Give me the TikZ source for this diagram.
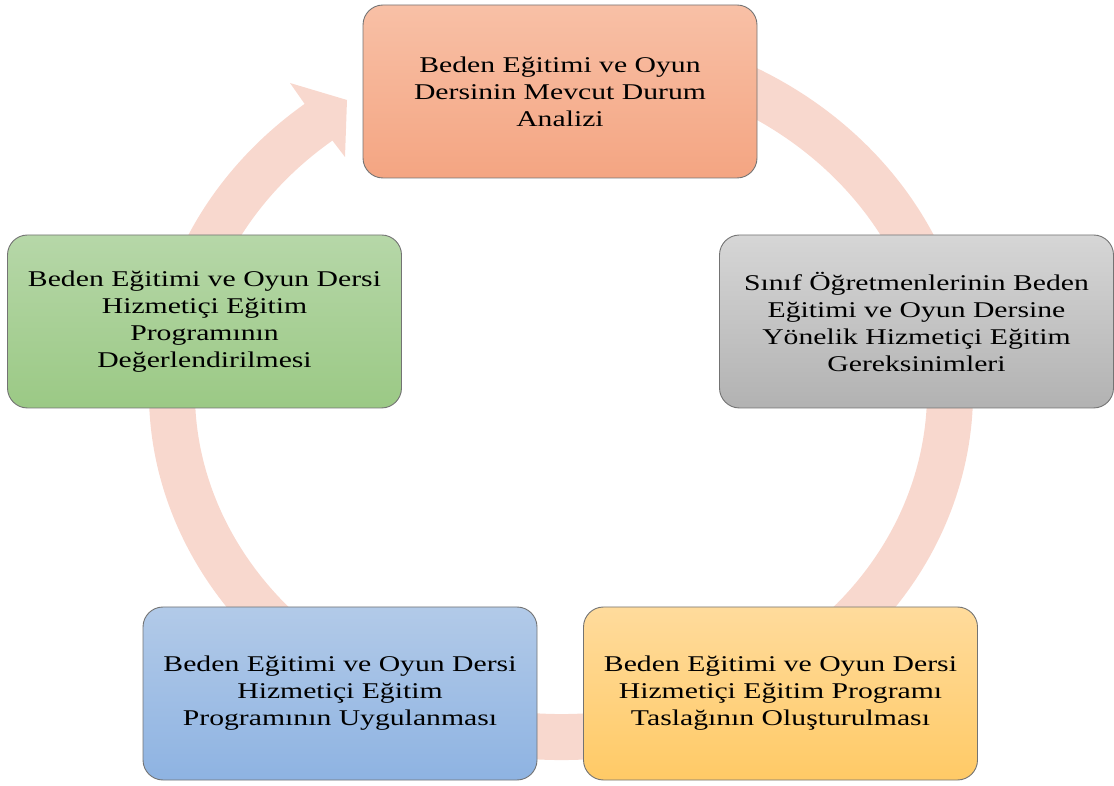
\documentclass[tikz,border=0pt]{standalone}
\usepackage{fontspec}
\setmainfont{Liberation Serif}[FakeStretch=1.32]
\definecolor{bandc}{HTML}{F8D8CE}
\definecolor{orT}{HTML}{F8C0A6}
\definecolor{orB}{HTML}{F4A582}
\definecolor{grT}{HTML}{D6D6D6}
\definecolor{grB}{HTML}{B2B2B2}
\definecolor{gnT}{HTML}{B6D7A8}
\definecolor{gnB}{HTML}{9BC985}
\definecolor{blT}{HTML}{B2CAE8}
\definecolor{blB}{HTML}{8EB3E2}
\definecolor{ylT}{HTML}{FFDB9C}
\definecolor{ylB}{HTML}{FFCA66}
\begin{document}
\begin{tikzpicture}[x=1pt,y=1pt,
  stage/.style={draw=black!55, line width=0.9pt, rounded corners=20pt,
    minimum width=394pt, minimum height=173pt, align=center, inner sep=0pt,
    font=\fontsize{22.5}{27}\selectfont},
  band/.style={draw=bandc, line width=46pt},
  bandhead/.style={fill=bandc, draw=none}]
\useasboundingbox (0,0) rectangle (1114,785);
% circular band
\coordinate (c) at (561,393);
\draw[band] (c) ++(80:389 and 345)
  arc[start angle=80, end angle=-232.5, x radius=389, y radius=345];
\coordinate (h1) at (304,682);
\coordinate (h2) at (290,702);
\coordinate (h3) at (347,685);
\coordinate (h4) at (345,628);
\coordinate (h5) at (332,645);
\fill[bandhead] (h1) -- (h2) -- (h3) -- (h4) -- (h5) -- cycle;
% stages
\node[stage, top color=orT, bottom color=orB] (n1) at (560,693.5)
  {Beden Eğitimi ve Oyun\\Dersinin Mevcut Durum\\Analizi};
\node[stage, top color=grT, bottom color=grB] (n2) at (916.5,463.5)
  {Sınıf Öğretmenlerinin Beden\\Eğitimi ve Oyun Dersine\\Yönelik Hizmetiçi Eğitim\\Gereksinimleri};
\node[stage, top color=ylT, bottom color=ylB] (n3) at (780.5,91.5)
  {Beden Eğitimi ve Oyun Dersi\\Hizmetiçi Eğitim Programı\\Taslağının Oluşturulması};
\node[stage, top color=blT, bottom color=blB] (n4) at (340,91.5)
  {Beden Eğitimi ve Oyun Dersi\\Hizmetiçi Eğitim\\Programının Uygulanması};
\node[stage, top color=gnT, bottom color=gnB] (n5) at (204.5,463.5)
  {Beden Eğitimi ve Oyun Dersi\\Hizmetiçi Eğitim\\Programının\\Değerlendirilmesi};
\end{tikzpicture}
\end{document}
